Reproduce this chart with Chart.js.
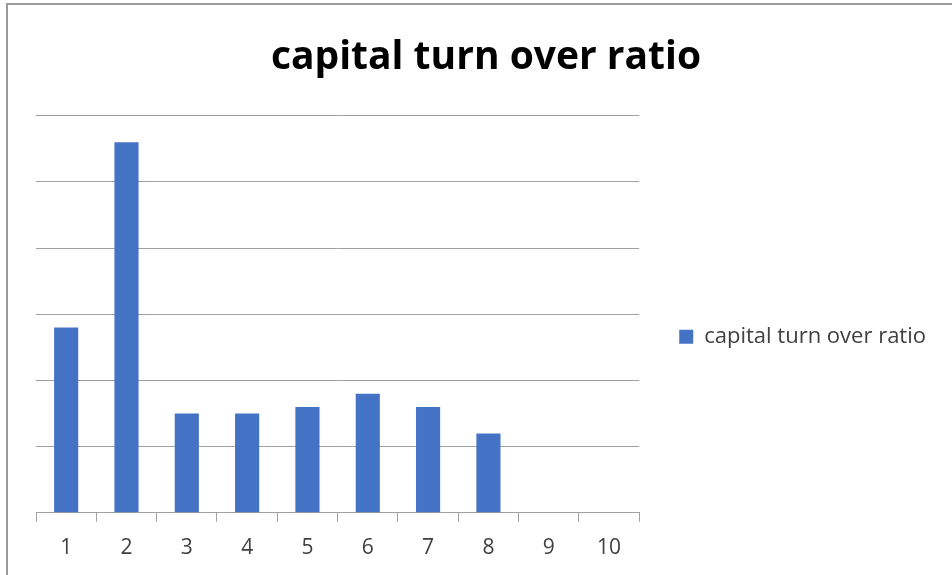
<!DOCTYPE html>
<html>
<head>
<meta charset="utf-8">
<script src="https://cdn.jsdelivr.net/npm/chart.js@4.4.0/dist/chart.umd.min.js"></script>
<style>
    html, body { margin: 0; padding: 0; background: #fff; }
    #wrap { position: relative; width: 952px; height: 575px; overflow: hidden; }
    #frame { position: absolute; left: 6px; top: 3px; right: -2px; bottom: -2px;
             border-left: 2px solid #9a9a9a; border-top: 2px solid #9a9a9a; }
    canvas { position: absolute; left: 0; top: 0; }
</style>
</head>
<body>
<div id="wrap">
    <canvas id="chart" width="952" height="575"></canvas>
    <div id="frame"></div>
</div>
<script>
    // chart data
    const title = "capital turn over ratio";
    const seriesName = "capital turn over ratio";
    const categories = ["1", "2", "3", "4", "5", "6", "7", "8", "9", "10"];
    const values = [2.8, 5.6, 1.5, 1.5, 1.6, 1.8, 1.6, 1.2, 0, 0];
    const barColor = "#4472C4";
    const gridColor = "#a0a0a0";
    const textColor = "#404040";

    const ctx = document.getElementById('chart');
    const myChart = new Chart(ctx, {
        type: 'bar',
        data: {
            labels: categories,
            datasets: [{
                label: seriesName,
                data: values,
                backgroundColor: barColor,
                barPercentage: 0.4,
                categoryPercentage: 1.0
            }]
        },
        options: {
            responsive: false,
            animation: false,
            layout: {
                padding: { left: 36, right: 16, top: 0, bottom: 0 }
            },
            plugins: {
                legend: {
                    position: 'right',
                    align: 'center',
                    maxWidth: 330,
                    // empty title only pushes the entry down a bit
                    title: { display: true, text: '', padding: { top: 84, bottom: 0 }, font: { size: 12 } },
                    labels: {
                        boxWidth: 14,
                        boxHeight: 14,
                        padding: 40,
                        color: textColor,
                        font: { family: 'Open Sans', size: 22 }
                    }
                },
                tooltip: { enabled: false },
                title: {
                    display: true,
                    text: title,
                    color: '#000',
                    font: { family: 'Open Sans', size: 39, weight: 'bold', lineHeight: 1.2 },
                    padding: { top: 34, bottom: 35 }
                }
            },
            scales: {
                x: {
                    offset: true,
                    grid: {
                        offset: true,
                        drawOnChartArea: false,
                        drawTicks: true,
                        tickLength: 9,
                        color: gridColor
                    },
                    border: { display: true, color: gridColor },
                    ticks: {
                        color: textColor,
                        padding: 14,
                        font: { family: 'Open Sans', size: 21 }
                    }
                },
                y: {
                    min: 0,
                    max: 6,
                    ticks: { display: false, stepSize: 1 },
                    grid: { color: gridColor, drawTicks: false },
                    border: { display: false }
                }
            }
        }
    });
</script>
</body>
</html>
